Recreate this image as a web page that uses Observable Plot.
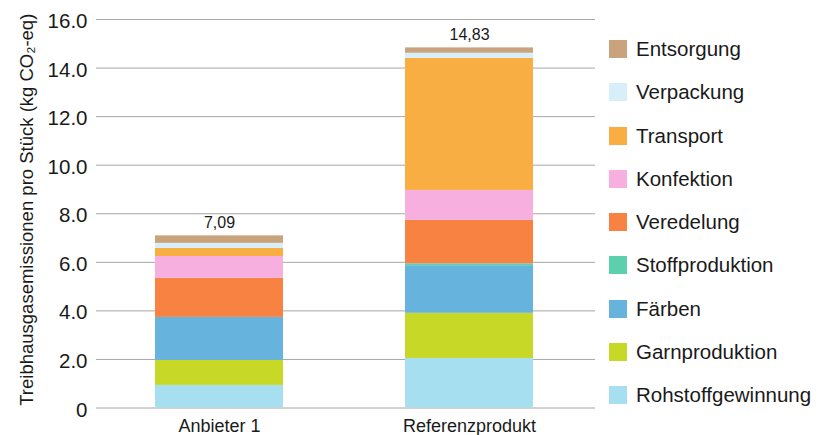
<!DOCTYPE html>
<html>
<head>
<meta charset="utf-8">
<script src="https://cdn.jsdelivr.net/npm/d3@7"></script>
<script src="https://cdn.jsdelivr.net/npm/@observablehq/plot@0.6"></script>
<style>
  body { margin: 0; background: #fff; font-family: "Liberation Sans", Arial, sans-serif; }
  #wrap { position: relative; width: 822px; height: 435px; }
  #legend { position: absolute; left: 0; top: 0; }
  .li { position: absolute; left: 609px; height: 24px; display: flex; align-items: center; white-space: nowrap; }
  .sw { width: 18px; height: 18px; margin-right: 9px; }
  .lt { font-size: 20.5px; color: #1a1a1a; }
</style>
</head>
<body>
<div id="wrap"><div id="legend"></div></div>
<script>
const categories = ["Anbieter 1", "Referenzprodukt"];
const stages = ["Rohstoffgewinnung", "Garnproduktion", "Färben", "Stoffproduktion", "Veredelung", "Konfektion", "Transport", "Verpackung", "Entsorgung"];
const colors = ["#a6dff0", "#c8d826", "#66b3de", "#5ccfad", "#f78242", "#f6afdf", "#f9ae43", "#d8eff9", "#c9a37d"];
const anbieter1 = [0.93, 1.03, 1.77, 0.00, 1.61, 0.90, 0.33, 0.21, 0.31];
const referenz = [2.04, 1.86, 1.96, 0.08, 1.79, 1.23, 5.44, 0.21, 0.22];
const totals = [7.09, 14.83];
const yTicks = [0, 2, 4, 6, 8, 10, 12, 14, 16];
const yTitle = "Treibhausgasemissionen pro Stück (kg CO₂-eq)";

const rows = [];
stages.forEach((s, i) => {
  rows.push({cat: categories[0], stage: s, value: anbieter1[i]});
  rows.push({cat: categories[1], stage: s, value: referenz[i]});
});
const totalRows = categories.map((c, i) => ({cat: c, total: totals[i]}));

const font = "'Liberation Sans', Arial, sans-serif";

const chart = Plot.plot({
  width: 822,
  height: 435,
  marginTop: 19,
  marginBottom: 27.5,
  marginLeft: 96,
  marginRight: 227,
  style: {fontFamily: font, background: "transparent", overflow: "visible", color: "#1a1a1a"},
  x: {domain: categories, paddingInner: 0.488, paddingOuter: 0.242, align: 0.488, label: null},
  y: {domain: [0, 16], label: null},
  color: {domain: stages, range: colors},
  marks: [
    Plot.ruleY(yTicks, {stroke: "#a6a6a6", strokeWidth: 1}),
    Plot.barY(rows, Plot.stackY({x: "cat", y: "value", fill: "stage", order: stages})),
    Plot.text(totalRows, {x: "cat", y: "total", text: d => d.total.toFixed(2).replace(".", ","), lineAnchor: "bottom", dy: -8, fontSize: 16, fill: "#1a1a1a"}),
    Plot.axisY({ticks: yTicks, tickSize: 0, tickPadding: 9, fontSize: 20.5, label: null, dy: 2,
      tickFormat: d => d === 0 ? "0" : d.toFixed(1)}),
    Plot.axisX({tickSize: 0, tickPadding: 11, fontSize: 18, label: null}),
    Plot.text([yTitle], {frameAnchor: "left", rotate: -90, textAnchor: "middle", dx: -69, dy: -4, fontSize: 18.5, fill: "#1a1a1a"})
  ]
});

document.getElementById("wrap").prepend(chart);

const legend = document.getElementById("legend");
const order = stages.slice().reverse();
const cols = colors.slice().reverse();
order.forEach((s, i) => {
  const d = document.createElement("div");
  d.className = "li";
  d.style.top = (49 + 43.25 * i - 12) + "px";
  d.innerHTML = `<div class="sw" style="background:${cols[i]}"></div><span class="lt">${s}</span>`;
  legend.appendChild(d);
});
</script>
</body>
</html>
